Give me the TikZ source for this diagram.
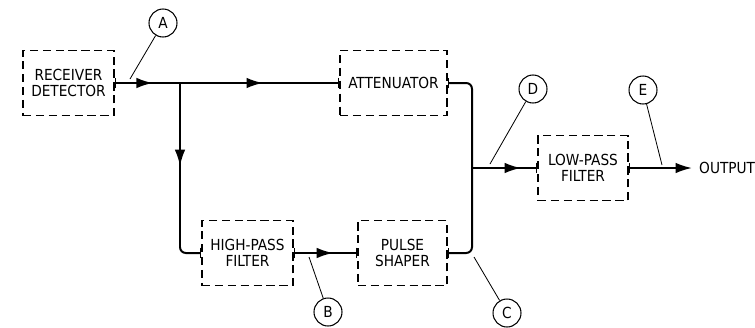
\documentclass[tikz,border=0pt]{standalone}
\usepackage{fontspec}
\setmainfont{DejaVu Sans Condensed}
\usepackage{tikz}
\usetikzlibrary{positioning,arrows.meta,calc,decorations.markings}

\tikzset{
  blk/.style={draw,dashed,dash pattern=on 7pt off 4pt,line width=1.1pt,minimum height=1.95cm,align=center,font=\fontsize{13}{14}\selectfont},
  tag/.style={draw,circle,line width=0.9pt,minimum size=0.84cm,inner sep=0pt,font=\fontsize{13}{14}\selectfont},
  sig/.style={line width=1.7pt,rounded corners=5pt},
  lead/.style={line width=0.7pt},
  flow/.style={postaction={decorate},decoration={markings,mark=at position #1 with {\arrow{Latex[length=14pt,width=9pt]}}}}
}

\begin{document}
\begin{tikzpicture}[x=0.03cm,y=-0.03cm]
  \useasboundingbox (0,0) rectangle (755,327);
  \node[blk,minimum width=2.73cm] (rx) at (68.5,83) {RECEIVER\\DETECTOR};
  \node[blk,minimum width=3.21cm] (att) at (393.5,83) {ATTENUATOR};
  \node[blk,minimum width=2.73cm] (hp) at (247.5,253) {HIGH-PASS\\FILTER};
  \node[blk,minimum width=2.67cm] (ps) at (402.5,253) {PULSE\\SHAPER};
  \node[blk,minimum width=2.70cm] (lp) at (583,168) {LOW-PASS\\FILTER};
  \node[anchor=west,font=\fontsize{13}{14}\selectfont,inner sep=0pt] (out) at (699,168) {OUTPUT};
  \coordinate (split) at (180,83);
  \coordinate (join) at (472,168);
  \coordinate (o1) at (692,168);

  \draw[sig,{Bar[width=9pt,line width=1.1pt]}-{Bar[width=9pt,line width=1.1pt]},postaction={decorate},decoration={markings,
      mark=at position 0.17 with {\arrow{Latex[length=14pt,width=9pt]}},
      mark=at position 0.66 with {\arrow{Latex[length=14pt,width=9pt]}}}] (rx.east) -- (att.west);
  \draw[sig,flow=0.44,-{Bar[width=9pt,line width=1.1pt]}] (split) |- (hp.west);
  \draw[sig,flow=0.62,{Bar[width=9pt,line width=1.1pt]}-{Bar[width=9pt,line width=1.1pt]}] (hp.east) -- (ps.west);
  \draw[sig,{Bar[width=9pt,line width=1.1pt]}-] (att.east) -| (join);
  \draw[sig,{Bar[width=9pt,line width=1.1pt]}-] (ps.east) -| (join);
  \draw[sig,flow=0.75,-{Bar[width=9pt,line width=1.1pt]}] (join) -- (lp.west);
  \draw[sig,{Bar[width=9pt,line width=1.1pt]}-{Latex[length=14pt,width=9pt]}] (lp.east) -- (o1);

  \node[tag] (A) at (163,23) {A};
  \node[tag] (B) at (328,312) {B};
  \node[tag] (C) at (507,313) {C};
  \node[tag] (D) at (533,89) {D};
  \node[tag] (E) at (643,90) {E};
  \coordinate (a1) at (130,79);
  \coordinate (b1) at (309,257);
  \coordinate (c1) at (474,257);
  \coordinate (d1) at (490,164);
  \coordinate (e1) at (662,165);
  \draw[lead] (A) -- (a1);
  \draw[lead] (B) -- (b1);
  \draw[lead] (C) -- (c1);
  \draw[lead] (D) -- (d1);
  \draw[lead] (E) -- (e1);
\end{tikzpicture}
\end{document}
